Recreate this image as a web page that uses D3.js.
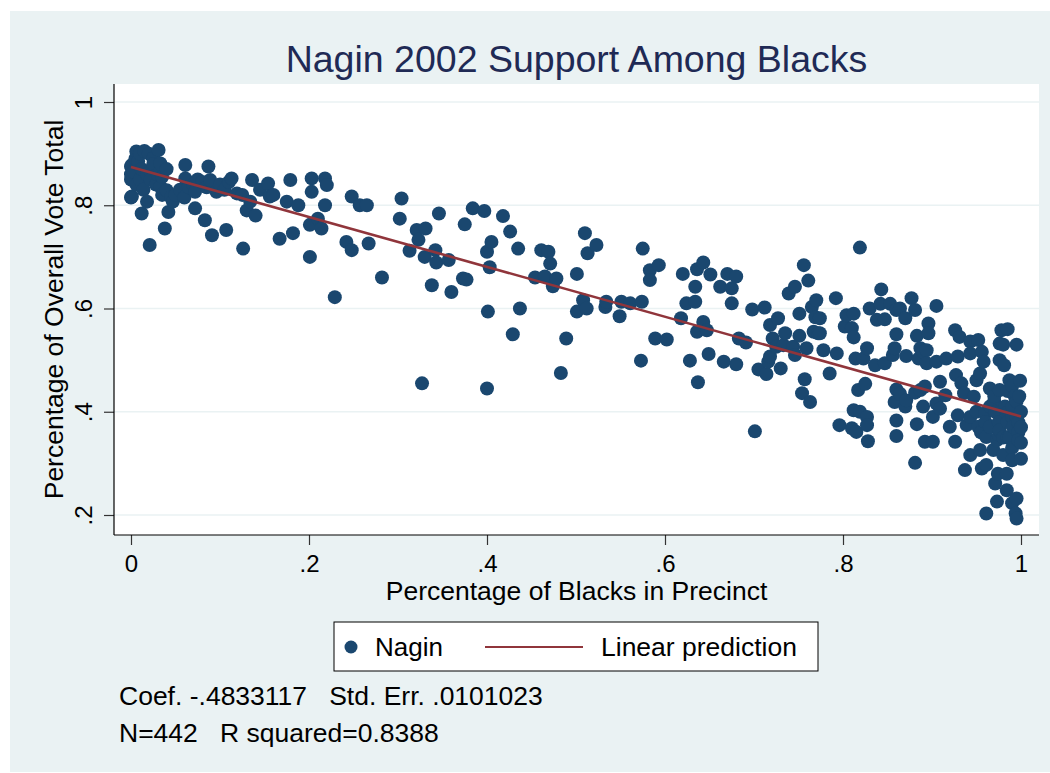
<!DOCTYPE html>
<html>
<head>
<meta charset="utf-8">
<script src="https://cdn.jsdelivr.net/npm/d3@7"></script>
<style>
body { margin: 0; background: #fff; }
text { font-family: "Liberation Sans", Arial, Helvetica, sans-serif; }
</style>
</head>
<body>
<div id="chart-area"></div>
<script>
// precincts: [share of black voters, Nagin share of overall vote]
var precinctsLow = [
	[0.000,0.875],[0.000,0.860],[0.000,0.850],[0.000,0.815],[0.001,0.878],[0.001,0.817],[0.003,0.865],[0.005,0.890],
	[0.006,0.904],[0.006,0.840],[0.008,0.885],[0.010,0.900],[0.010,0.850],[0.012,0.870],[0.012,0.784],[0.014,0.830],
	[0.015,0.905],[0.018,0.807],[0.018,0.860],[0.020,0.900],[0.021,0.723],[0.022,0.850],[0.025,0.891],[0.025,0.880],
	[0.028,0.840],[0.030,0.860],[0.031,0.907],[0.033,0.881],[0.033,0.836],[0.035,0.855],[0.035,0.820],[0.038,0.755],
	[0.040,0.870],[0.040,0.829],[0.042,0.787],[0.045,0.815],[0.047,0.807],[0.050,0.820],[0.055,0.830],[0.060,0.815],
	[0.061,0.878],[0.061,0.852],[0.065,0.835],[0.070,0.840],[0.072,0.826],[0.072,0.794],[0.075,0.850],[0.080,0.845],
	[0.083,0.771],[0.085,0.835],[0.087,0.875],[0.089,0.849],[0.091,0.742],[0.096,0.826],[0.100,0.840],[0.105,0.830],
	[0.107,0.752],[0.110,0.845],[0.113,0.852],[0.119,0.823],[0.125,0.820],[0.126,0.716],[0.130,0.790],[0.134,0.807],
	[0.136,0.849],[0.140,0.780],[0.145,0.830],[0.154,0.842],[0.156,0.817],[0.160,0.820],[0.167,0.735],[0.175,0.807],
	[0.179,0.849],[0.182,0.746],[0.188,0.800],[0.201,0.700],[0.201,0.762],[0.203,0.852],[0.203,0.826],[0.210,0.774],
	[0.214,0.755],[0.218,0.852],[0.218,0.800],[0.220,0.839],[0.229,0.622],[0.242,0.729],[0.248,0.713],[0.248,0.817]
];
var precinctsMid = [
	[0.257,0.800],[0.265,0.800],[0.267,0.726],[0.282,0.660],[0.302,0.774],[0.304,0.813],[0.313,0.712],[0.321,0.752],
	[0.323,0.733],[0.327,0.455],[0.330,0.700],[0.331,0.755],[0.338,0.645],[0.342,0.713],[0.343,0.689],[0.346,0.784],
	[0.357,0.694],[0.360,0.632],[0.373,0.658],[0.377,0.656],[0.375,0.763],[0.384,0.794],[0.397,0.789],[0.400,0.710],
	[0.400,0.445],[0.401,0.594],[0.403,0.680],[0.405,0.729],[0.418,0.779],[0.426,0.749],[0.429,0.550],[0.435,0.716],
	[0.437,0.600],[0.454,0.660],[0.461,0.713],[0.465,0.662],[0.469,0.710],[0.471,0.687],[0.474,0.643],[0.478,0.658],
	[0.483,0.475],[0.489,0.542],[0.501,0.667],[0.501,0.594],[0.508,0.616],[0.510,0.746],[0.512,0.600],[0.513,0.707],
	[0.523,0.723],[0.533,0.603],[0.534,0.613],[0.549,0.585],[0.551,0.613],[0.561,0.610],[0.573,0.499],[0.574,0.613],
	[0.575,0.716],[0.583,0.674],[0.583,0.655],[0.589,0.542],[0.593,0.684]
];
var precinctsHigh = [
	[0.602,0.540],[0.618,0.581],[0.620,0.667],[0.624,0.610],[0.628,0.499],[0.634,0.642],[0.634,0.613],[0.636,0.676],
	[0.636,0.555],[0.637,0.457],[0.643,0.689],[0.643,0.574],[0.647,0.558],[0.649,0.512],[0.651,0.666],[0.662,0.642],
	[0.666,0.497],[0.670,0.667],[0.675,0.639],[0.675,0.610],[0.680,0.662],[0.680,0.492],[0.683,0.542],[0.691,0.534],
	[0.698,0.598],[0.701,0.362],[0.705,0.482],[0.712,0.602],[0.714,0.473],[0.716,0.497],[0.718,0.568],[0.718,0.507],
	[0.721,0.542],[0.725,0.526],[0.727,0.581],[0.730,0.484],[0.733,0.529],[0.735,0.552],[0.739,0.629],[0.744,0.526],
	[0.746,0.642],[0.746,0.510],[0.751,0.590],[0.751,0.547],[0.754,0.436],[0.756,0.684],[0.757,0.463],[0.759,0.523],
	[0.761,0.654],[0.763,0.419],[0.765,0.603],[0.767,0.555],[0.769,0.583],[0.770,0.616],[0.772,0.552],[0.774,0.581],
	[0.774,0.552],[0.778,0.519],[0.785,0.474],[0.792,0.620],[0.793,0.513],[0.796,0.374],[0.802,0.565],[0.804,0.587],
	[0.810,0.562],[0.810,0.368],[0.812,0.590],[0.812,0.544],[0.812,0.403],[0.814,0.503],[0.815,0.361],[0.817,0.442],
	[0.819,0.718],[0.819,0.400],[0.823,0.503],[0.825,0.454],[0.827,0.523],[0.827,0.390],[0.827,0.374],[0.828,0.343],
	[0.830,0.600],[0.836,0.490],[0.838,0.578],[0.842,0.609],[0.843,0.637],[0.847,0.579],[0.847,0.494]
];
var precinctsTop = [
	[0.853,0.609],[0.856,0.510],[0.858,0.523],[0.858,0.419],[0.860,0.597],[0.860,0.550],[0.860,0.443],[0.860,0.383],
	[0.860,0.353],[0.864,0.600],[0.864,0.435],[0.870,0.581],[0.870,0.410],[0.871,0.508],[0.871,0.422],[0.877,0.620],
	[0.881,0.597],[0.881,0.437],[0.881,0.301],[0.883,0.547],[0.883,0.376],[0.885,0.503],[0.887,0.523],[0.887,0.442],
	[0.890,0.516],[0.890,0.410],[0.892,0.449],[0.892,0.342],[0.894,0.519],[0.894,0.494],[0.896,0.571],[0.896,0.552],
	[0.901,0.390],[0.901,0.342],[0.905,0.605],[0.905,0.497],[0.905,0.416],[0.909,0.458],[0.909,0.406],[0.915,0.432],
	[0.916,0.503],[0.920,0.371],[0.926,0.558],[0.926,0.342],[0.927,0.471],[0.929,0.507],[0.929,0.393],[0.931,0.545],
	[0.933,0.455],[0.936,0.436],[0.937,0.287],[0.939,0.374],[0.943,0.536],[0.943,0.513],[0.943,0.390],[0.943,0.316],
	[0.947,0.429],[0.950,0.461],[0.950,0.400],[0.952,0.539],[0.952,0.371],[0.954,0.474],[0.954,0.326],[0.955,0.360],
	[0.956,0.516],[0.956,0.290],[0.958,0.497],[0.960,0.397],[0.960,0.380],[0.961,0.351],[0.961,0.297],[0.961,0.203],
	[0.965,0.445],[0.965,0.371],[0.965,0.410],[0.969,0.326],[0.970,0.420],[0.970,0.430],[0.971,0.400],[0.971,0.261],
	[0.973,0.345],[0.973,0.226],[0.974,0.280],[0.975,0.380],[0.975,0.355],[0.976,0.532],[0.976,0.500],[0.976,0.442],
	[0.976,0.364],[0.978,0.558],[0.980,0.316],[0.980,0.350],[0.980,0.530],[0.981,0.490],[0.982,0.410],[0.984,0.397],
	[0.984,0.280],[0.984,0.248],[0.985,0.560],[0.985,0.440],[0.985,0.380],[0.985,0.350],[0.987,0.461],[0.987,0.351],
	[0.990,0.410],[0.990,0.390],[0.990,0.330],[0.990,0.450],[0.990,0.306],[0.990,0.223],[0.991,0.371],[0.993,0.430],
	[0.994,0.203],[0.995,0.420],[0.995,0.390],[0.995,0.530],[0.995,0.232],[0.995,0.193],[0.997,0.380],[0.997,0.360],
	[0.997,0.345],[0.998,0.430],[0.999,0.460],[1.000,0.400],[1.000,0.370],[1.000,0.309],[1.000,0.340]
];

var xTicks = [0, 0.2, 0.4, 0.6, 0.8, 1];
var yTicks = [0.2, 0.4, 0.6, 0.8, 1];
var fitIntercept = 0.874;
var fitCoef = -0.4833117;
var notes = ["Coef. -.4833117   Std. Err. .0101023", "N=442   R squared=0.8388"];

var data = precinctsLow.concat(precinctsMid, precinctsHigh, precinctsTop);

var W = 1050, H = 773;
var plot = {left: 114, top: 84, right: 1039, bottom: 535};

var svg = d3.select("#chart-area")
.append("svg")
	.attr("width", W)
	.attr("height", H);

svg.append("rect")
	.attr("x", 10).attr("y", 11)
	.attr("width", W - 10).attr("height", H - 12)
	.attr("fill", "#eaf2f3");

svg.append("rect")
	.attr("x", plot.left).attr("y", plot.top)
	.attr("width", plot.right - plot.left).attr("height", plot.bottom - plot.top)
	.attr("fill", "#fff");

var x = d3.scaleLinear().domain([0, 1]).range([131, 1021]);
var y = d3.scaleLinear().domain([0.2, 1]).range([515, 102]);

var fmt = function(d) {
	if (d === 0) return "0";
	if (d === 1) return "1";
	return String(d).replace("0.", ".");
};

// grid
svg.append("g").selectAll("line").data(yTicks).enter().append("line")
	.attr("x1", plot.left).attr("x2", plot.right)
	.attr("y1", function(d) { return y(d); })
	.attr("y2", function(d) { return y(d); })
	.attr("stroke", "#eaf2f3")
	.attr("stroke-width", 1.5);

// axes
var xAxisGroup = svg.append("g")
	.attr("transform", "translate(0, " + plot.bottom + ")")
	.call(d3.axisBottom(x).tickValues(xTicks).tickFormat(fmt).tickSize(10).tickPadding(10));

var yAxisGroup = svg.append("g")
	.attr("transform", "translate(" + plot.left + ", 0)")
	.call(d3.axisLeft(y).tickValues(yTicks).tickFormat(fmt).tickSize(10));

[xAxisGroup, yAxisGroup].forEach(function(ax) {
	ax.select(".domain").remove();
	ax.selectAll("line").attr("stroke", "#333").attr("stroke-width", 1.2);
	ax.selectAll("text")
		.attr("font-size", "24px")
		.attr("font-family", "Liberation Sans, Arial, sans-serif")
		.attr("fill", "#000");
});

yAxisGroup.selectAll("text")
	.attr("x", null).attr("dy", null)
	.attr("text-anchor", "middle")
	.attr("transform", "translate(-22,0) rotate(-90)");

svg.append("line")
	.attr("x1", plot.left).attr("x2", plot.left)
	.attr("y1", plot.top).attr("y2", plot.bottom)
	.attr("stroke", "#000").attr("stroke-width", 1.2);
svg.append("line")
	.attr("x1", plot.left).attr("x2", plot.right)
	.attr("y1", plot.bottom).attr("y2", plot.bottom)
	.attr("stroke", "#000").attr("stroke-width", 1.2);

// points
svg.append("g").selectAll("circle").data(data).enter().append("circle")
	.attr("cx", function(d) { return x(d[0]); })
	.attr("cy", function(d) { return y(d[1]); })
	.attr("r", 7)
	.attr("fill", "#1a476f");

// fitted line
var ext = d3.extent(data, function(d) { return d[0]; });
svg.append("line")
	.attr("x1", x(ext[0])).attr("y1", y(fitIntercept + fitCoef * ext[0]))
	.attr("x2", x(ext[1])).attr("y2", y(fitIntercept + fitCoef * ext[1]))
	.attr("stroke", "#90353b")
	.attr("stroke-width", 2.6);

// titles
svg.append("text")
	.attr("x", (plot.left + plot.right) / 2)
	.attr("y", 72)
	.attr("text-anchor", "middle")
	.attr("font-size", "37.5px")
	.attr("fill", "#1f2a55")
	.text("Nagin 2002 Support Among Blacks");

svg.append("text")
	.attr("x", (plot.left + plot.right) / 2)
	.attr("y", 600)
	.attr("text-anchor", "middle")
	.attr("font-size", "26.5px")
	.attr("fill", "#000")
	.text("Percentage of Blacks in Precinct");

svg.append("text")
	.attr("transform", "translate(63, " + (plot.top + plot.bottom) / 2 + ") rotate(-90)")
	.attr("text-anchor", "middle")
	.attr("font-size", "26.5px")
	.attr("fill", "#000")
	.text("Percentage of Overall Vote Total");

// legend
var legend = svg.append("g");
legend.append("rect")
	.attr("x", 334).attr("y", 622)
	.attr("width", 484).attr("height", 49)
	.attr("fill", "#fff")
	.attr("stroke", "#000")
	.attr("stroke-width", 1);
legend.append("circle")
	.attr("cx", 351).attr("cy", 647).attr("r", 6.5)
	.attr("fill", "#1a476f");
legend.append("text")
	.attr("x", 375).attr("y", 656)
	.attr("font-size", "26px")
	.text("Nagin");
legend.append("line")
	.attr("x1", 485).attr("x2", 583)
	.attr("y1", 647).attr("y2", 647)
	.attr("stroke", "#90353b").attr("stroke-width", 2);
legend.append("text")
	.attr("x", 601).attr("y", 656)
	.attr("font-size", "26.5px")
	.text("Linear prediction");

// notes
svg.append("g").selectAll("text").data(notes).enter().append("text")
	.attr("x", 119)
	.attr("y", function(d, i) { return 705 + i * 37; })
	.attr("font-size", "26.5px")
	.style("white-space", "pre")
	.text(function(d) { return d; });
</script>
</body>
</html>
